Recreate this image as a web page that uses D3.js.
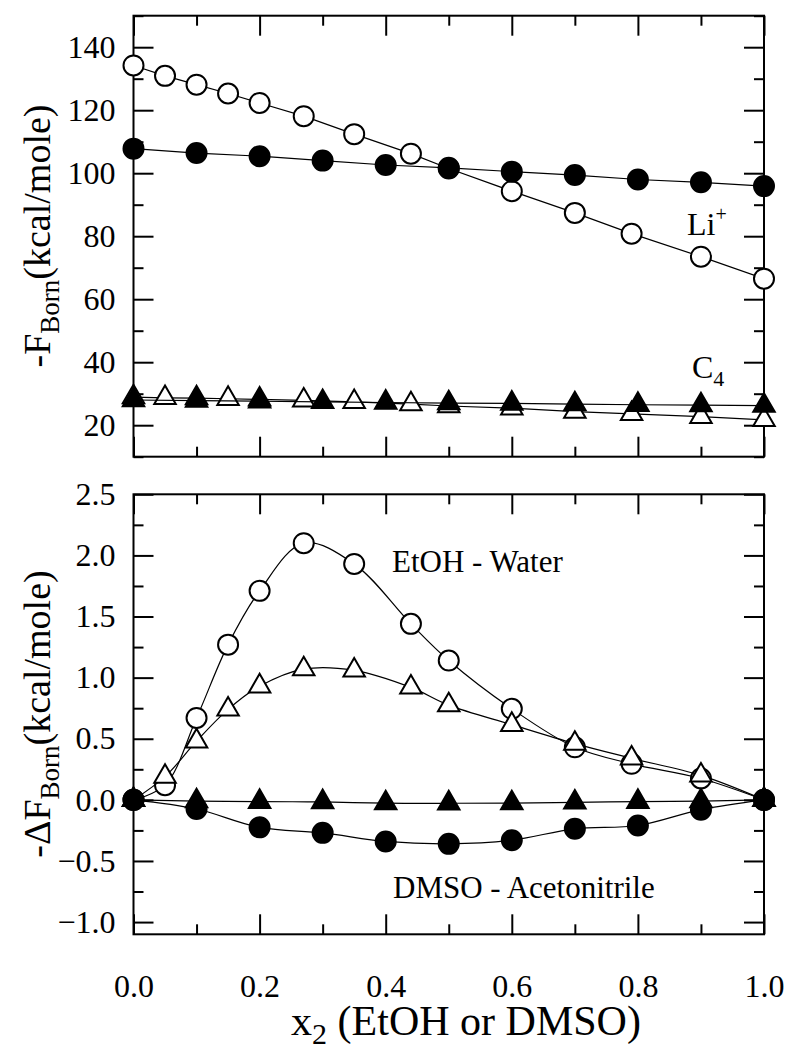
<!DOCTYPE html>
<html>
<head>
<meta charset="utf-8">
<script src="https://cdn.jsdelivr.net/npm/d3@7"></script>
<style>
  body { margin: 0; background: #fff; }
  svg text { font-family: "Liberation Serif", "Times New Roman", Tinos, "DejaVu Serif", serif; }
</style>
</head>
<body>
<svg id="chart"></svg>
<script>
// mole fractions of the two mixtures
const xEtOH = [0, 0.05, 0.1, 0.15, 0.2, 0.27, 0.35, 0.44, 0.5, 0.6, 0.7, 0.79, 0.9, 1.0];
const xDMSO = [0, 0.1, 0.2, 0.3, 0.4, 0.5, 0.6, 0.7, 0.8, 0.9, 1.0];

// top panel: -F_Born
const liEtOH = [134.2, 130.9, 128.1, 125.3, 122.3, 118.1, 112.4, 106.2, 101.5, 94.3, 87.4, 80.8, 73.5, 66.5];
const liDMSO = [107.8, 106.4, 105.4, 104.0, 102.6, 101.7, 100.5, 99.4, 98.0, 97.1, 95.9];
const c4EtOH = [28.9, 28.7, 28.6, 28.4, 28.2, 27.9, 27.4, 26.7, 26.1, 25.4, 24.3, 23.6, 22.7, 21.7];
const c4DMSO = [28.0, 27.8, 27.6, 27.4, 27.2, 27.0, 26.9, 26.7, 26.5, 26.4, 26.2];

// bottom panel: -dF_Born
const dLiEtOH = [0.0, 0.12, 0.67, 1.27, 1.71, 2.10, 1.93, 1.44, 1.14, 0.745, 0.43, 0.295, 0.175, 0.0];
const dC4EtOH = [0.0, 0.19, 0.48, 0.74, 0.93, 1.07, 1.06, 0.92, 0.775, 0.615, 0.46, 0.34, 0.2, 0.0];
const dLiDMSO = [0.0, -0.075, -0.225, -0.27, -0.34, -0.36, -0.33, -0.237, -0.21, -0.08, 0.0];
const dC4DMSO = [0.0, -0.01, -0.015, -0.017, -0.027, -0.028, -0.026, -0.02, -0.015, -0.01, 0.0];

const xMajor = [0, 0.2, 0.4, 0.6, 0.8, 1.0];
const xMinor = [0.1, 0.3, 0.5, 0.7, 0.9];
const topMajor = [20, 40, 60, 80, 100, 120, 140];
const topMinor = [10, 30, 50, 70, 90, 110, 130, 150];
const botMajor = [-1.0, -0.5, 0.0, 0.5, 1.0, 1.5, 2.0, 2.5];
const botMinor = [-0.75, -0.25, 0.25, 0.75, 1.25, 1.75, 2.25];

const serif = '"Liberation Serif", "Times New Roman", Tinos, "DejaVu Serif", serif';
const width = 790, height = 1044;
const svg = d3.select("#chart").attr("width", width).attr("height", height);
svg.append("rect").attr("width", width).attr("height", height).attr("fill", "#fff");

const left = 133.5, right = 764;
const x = d3.scaleLinear().domain([0, 1]).range([left, right]);
const yTop = d3.scaleLinear().domain([10, 150]).range([456.7, 15.7]);
const yBot = d3.scaleLinear().domain([-1.1, 2.5]).range([934.3, 494.3]);

function frame(y, major, minor, fmt, showX) {
    const [y0, y1] = y.range();
    const g = svg.append("g");
    const axes = [
        [d3.axisLeft(y), `translate(${left},0)`, major, -20, fmt, 18],
        [d3.axisLeft(y), `translate(${left},0)`, minor, -10, "", 18],
        [d3.axisRight(y), `translate(${right},0)`, major, -20, "", 18],
        [d3.axisRight(y), `translate(${right},0)`, minor, -10, "", 18],
        [d3.axisBottom(x), `translate(0,${y0})`, xMajor, -20, showX ? d3.format(".1f") : "", 40],
        [d3.axisBottom(x), `translate(0,${y0})`, xMinor, -10, "", 18],
        [d3.axisTop(x), `translate(0,${y1})`, xMajor, -20, "", 18],
        [d3.axisTop(x), `translate(0,${y1})`, xMinor, -10, "", 18]
    ];
    axes.forEach(([ax, tr, vals, size, f, pad]) => {
        const a = g.append("g")
            .attr("transform", tr)
            .call(ax.tickValues(vals).tickSize(size).tickSizeOuter(0)
                .tickPadding(pad).tickFormat(f === "" ? () => "" : f));
        a.attr("font-family", serif);
        a.select(".domain").remove();
        a.selectAll("line").attr("stroke", "#000").attr("stroke-width", 2);
        a.selectAll("text").attr("font-size", 32).attr("fill", "#000");
    });
    g.append("rect")
        .attr("x", left).attr("y", y1)
        .attr("width", right - left).attr("height", y0 - y1)
        .attr("fill", "none").attr("stroke", "#000").attr("stroke-width", 2);
}

frame(yTop, topMajor, topMinor, d3.format("d"), false);
frame(yBot, botMajor, botMinor, d3.format(".1f"), true);

const circle = d3.symbol().type(d3.symbolCircle).size(Math.PI * 100);
const triangle = d3.symbol().type(d3.symbolTriangle).size(200);

function series(xs, ys, y, sym, filled, curve) {
    const pts = xs.map((d, i) => [d, ys[i]]);
    svg.append("path")
        .datum(pts)
        .attr("fill", "none")
        .attr("stroke", "#000")
        .attr("stroke-width", 1.2)
        .attr("d", d3.line().curve(curve).x(d => x(d[0])).y(d => y(d[1])));
    svg.append("g").selectAll("path")
        .data(pts)
        .join("path")
        .attr("transform", d => `translate(${x(d[0])},${y(d[1])})`)
        .attr("d", sym)
        .attr("fill", filled ? "#000" : "#fff")
        .attr("stroke", "#000")
        .attr("stroke-width", 2);
}

series(xEtOH, liEtOH, yTop, circle, false, d3.curveLinear);
series(xEtOH, c4EtOH, yTop, triangle, false, d3.curveLinear);
series(xDMSO, c4DMSO, yTop, triangle, true, d3.curveLinear);
series(xDMSO, liDMSO, yTop, circle, true, d3.curveLinear);

series(xEtOH, dLiEtOH, yBot, circle, false, d3.curveCatmullRom);
series(xEtOH, dC4EtOH, yBot, triangle, false, d3.curveCatmullRom);
series(xDMSO, dC4DMSO, yBot, triangle, true, d3.curveCatmullRom);
series(xDMSO, dLiDMSO, yBot, circle, true, d3.curveCatmullRom);

// annotations
const li = svg.append("text").attr("x", 687).attr("y", 235).attr("font-size", 32);
li.append("tspan").text("Li");
li.append("tspan").attr("font-size", 20).attr("dy", -14).text("+");

const c4 = svg.append("text").attr("x", 692).attr("y", 378).attr("font-size", 32);
c4.append("tspan").text("C");
c4.append("tspan").attr("font-size", 22).attr("dy", 8).text("4");

svg.append("text").attr("x", 392).attr("y", 572).attr("font-size", 31).text("EtOH - Water");
svg.append("text").attr("x", 393).attr("y", 898).attr("font-size", 31).text("DMSO - Acetonitrile");

// axis titles
function yTitle(cx, cy, prefix) {
    const t = svg.append("text")
        .attr("transform", `translate(${cx},${cy}) rotate(-90)`)
        .attr("text-anchor", "middle")
        .attr("font-size", 38);
    t.append("tspan").text(prefix);
    t.append("tspan").attr("font-size", 27).attr("dy", 9).text("Born");
    t.append("tspan").attr("dy", -9).text("(kcal/mole)");
}
yTitle(50, 236, "-F");
yTitle(50, 714, "-\u0394F");

const xt = svg.append("text")
    .attr("x", 466).attr("y", 1035)
    .attr("text-anchor", "middle")
    .attr("font-size", 42);
xt.append("tspan").text("x");
xt.append("tspan").attr("font-size", 30).attr("dy", 9).text("2");
xt.append("tspan").attr("dy", -9).text(" (EtOH or DMSO)");
</script>
</body>
</html>
